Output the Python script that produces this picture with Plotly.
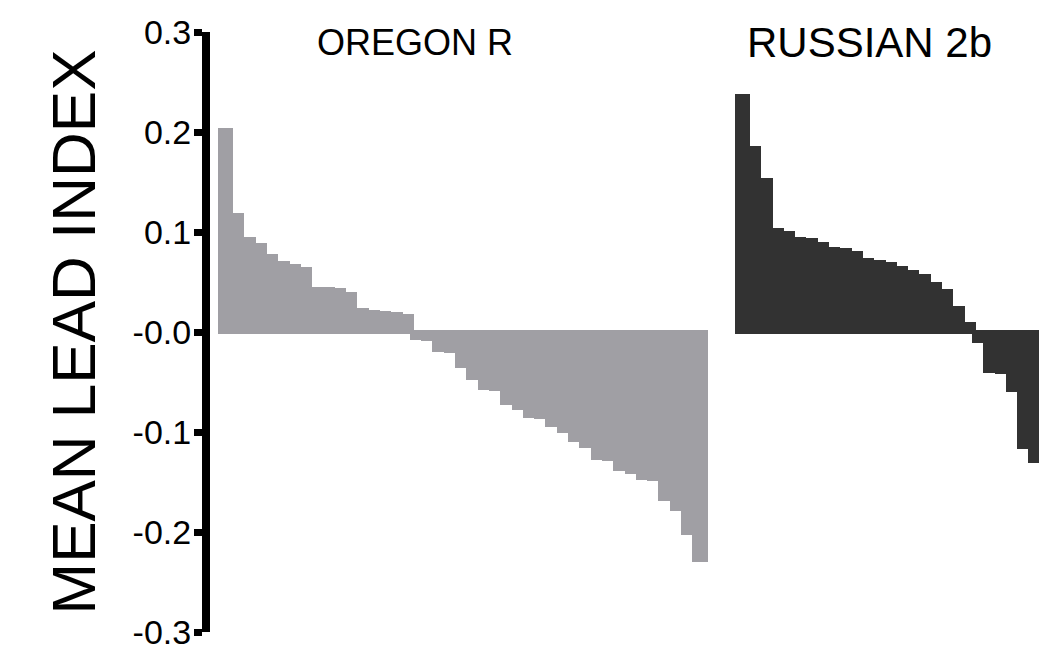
import plotly.graph_objects as go

# Mean lead index per line, sorted from highest to lowest
oregon_r = [0.202, 0.117, 0.093, 0.087, 0.076, 0.069, 0.066, 0.063, 0.043, 0.043,
            0.042, 0.038, 0.022, 0.020, 0.019, 0.018, 0.016,
            -0.006, -0.007, -0.018, -0.019, -0.034, -0.046, -0.056, -0.057, -0.071,
            -0.076, -0.084, -0.085, -0.093, -0.099, -0.108, -0.114, -0.126, -0.127,
            -0.137, -0.140, -0.146, -0.147, -0.167, -0.177, -0.201, -0.228]

russian_2b = [0.236, 0.184, 0.152, 0.102, 0.099, 0.093, 0.092, 0.088, 0.083, 0.082,
              0.079, 0.072, 0.070, 0.068, 0.064, 0.060, 0.056, 0.048, 0.041, 0.024,
              0.008, -0.009, -0.039, -0.040, -0.058, -0.115, -0.129]

panel_titles = ["OREGON R", "RUSSIAN 2b"]
y_ticks = [0.3, 0.2, 0.1, 0.0, -0.1, -0.2, -0.3]
y_tick_text = ["0.3", "0.2", "0.1", "-0.0", "-0.1", "-0.2", "-0.3"]
y_title = "MEAN LEAD INDEX"

GRAY = "#a09fa4"
DARK = "#323232"
FONT = "Liberation Sans, Arial, sans-serif"

gap = 2.75  # empty slots between the two panels
x_oregon = list(range(len(oregon_r)))
x_russian = [len(oregon_r) + gap + i for i in range(len(russian_2b))]

fig = go.Figure()
fig.add_trace(go.Bar(x=x_oregon, y=oregon_r, width=1,
                     marker=dict(color=GRAY, line=dict(color=GRAY, width=4)),
                     showlegend=False))
fig.add_trace(go.Bar(x=x_russian, y=russian_2b, width=1,
                     marker=dict(color=DARK, line=dict(color=DARK, width=4)),
                     showlegend=False))

left_px = 210
px_per_bar = 11.3
x0 = -(225.35 - left_px) / px_per_bar
x1 = x0 + (1039 - left_px) / px_per_bar

fig.update_layout(
    width=1039, height=653,
    margin=dict(l=left_px, r=0, t=32, b=21),
    paper_bgcolor="white", plot_bgcolor="white",
    barmode="overlay", bargap=0,
    font=dict(family=FONT, color="black"),
    xaxis=dict(range=[x0, x1], visible=False, fixedrange=True),
    yaxis=dict(range=[-0.3, 0.3], tickvals=y_ticks, ticktext=y_tick_text,
               showline=True, linewidth=8, linecolor="black",
               ticks="outside", ticklen=8, tickwidth=7, tickcolor="black",
               ticklabelstandoff=-4,
               showgrid=False, zeroline=False,
               tickfont=dict(size=34, family=FONT, color="black"),
               title=dict(text=y_title, font=dict(size=62, family=FONT, color="black"),
                          standoff=20)),
)

title_pos = [0.247, 0.795]
title_sizes = [36, 42]
for name, xp, fs in zip(panel_titles, title_pos, title_sizes):
    fig.add_annotation(x=xp, y=0.29, xref="paper", yref="y", xanchor="center",
                       text=name, showarrow=False,
                       font=dict(size=fs, family=FONT, color="black"))

fig.write_html("out.html")
